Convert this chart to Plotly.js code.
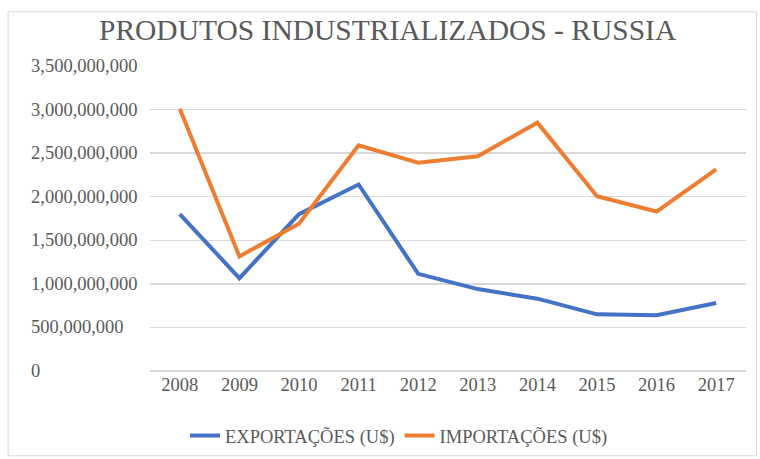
<!DOCTYPE html>
<html>
<head>
<meta charset="utf-8">
<script src="https://cdn.plot.ly/plotly-3.0.1.min.js"></script>
<style>
html,body{margin:0;padding:0;background:#fff;}
</style>
</head>
<body>
<div id="chart" style="width:760px;height:459px"></div>
<script>
const years = ['2008','2009','2010','2011','2012','2013','2014','2015','2016','2017'];
const exportacoes = [1800000000, 1065000000, 1800000000, 2140000000, 1115000000, 940000000, 830000000, 650000000, 640000000, 780000000];
const importacoes = [3010000000, 1315000000, 1690000000, 2590000000, 2390000000, 2465000000, 2850000000, 2005000000, 1830000000, 2315000000];
const yTickVals = [0, 500000000, 1000000000, 1500000000, 2000000000, 2500000000, 3000000000, 3500000000];
const yTickText = ['0','500,000,000','1,000,000,000','1,500,000,000','2,000,000,000','2,500,000,000','3,000,000,000','3,500,000,000'];
const seriesNames = ['EXPORTAÇÕES (U$)', 'IMPORTAÇÕES (U$)'];

const grey = '#595959';

const traces = [
  {x: years, y: exportacoes, name: seriesNames[0], type: 'scatter', mode: 'lines',
   line: {color: '#4472C4', width: 4}},
  {x: years, y: importacoes, name: seriesNames[1], type: 'scatter', mode: 'lines',
   line: {color: '#ED7D31', width: 4}}
];

const annotations = yTickVals.map((v, i) => ({
  xref: 'paper', yref: 'y', x: -0.203, y: v, xanchor: 'left', yanchor: 'middle',
  text: yTickText[i], showarrow: false, font: {family: 'Liberation Serif', size: 18.5, color: grey}
}));

const layout = {
  width: 760, height: 459,
  margin: {l: 149.5, r: 14, t: 65.7, b: 88.3, autoexpand: false},
  title: {text: 'PRODUTOS INDUSTRIALIZADOS - RUSSIA', x: 0.51, xref: 'container', xanchor: 'center',
          y: 1 - 30/459, yref: 'container', yanchor: 'middle',
          font: {family: 'Liberation Serif', size: 29.5, color: grey}},
  xaxis: {type: 'category', range: [-0.5, 9.5], showgrid: false, zeroline: false, showline: false,
          ticks: '', tickfont: {family: 'Liberation Serif', size: 18.5, color: grey}, automargin: false},
  yaxis: {range: [0, 3500000000], tickvals: yTickVals, showticklabels: false,
          showgrid: true, gridcolor: '#d9d9d9', gridwidth: 1.3,
          zeroline: true, zerolinecolor: '#d9d9d9', zerolinewidth: 1.3, showline: false, ticks: '', automargin: false},
  showlegend: true,
  legend: {orientation: 'h', x: 0.525, xref: 'container', xanchor: 'center', y: (459 - 436) / 459, yref: 'container', yanchor: 'middle',
           font: {family: 'Liberation Serif', size: 18.5, color: grey}, itemwidth: 30},
  shapes: [{type: 'rect', xref: 'paper', yref: 'paper', x0: -0.238, x1: 1.0176, y0: -0.278, y1: 1.1777,
            line: {color: '#d9d9d9', width: 1}, fillcolor: 'rgba(0,0,0,0)', layer: 'below'}],
  annotations: annotations
};

Plotly.newPlot('chart', traces, layout, {staticPlot: true});
</script>
</body>
</html>
